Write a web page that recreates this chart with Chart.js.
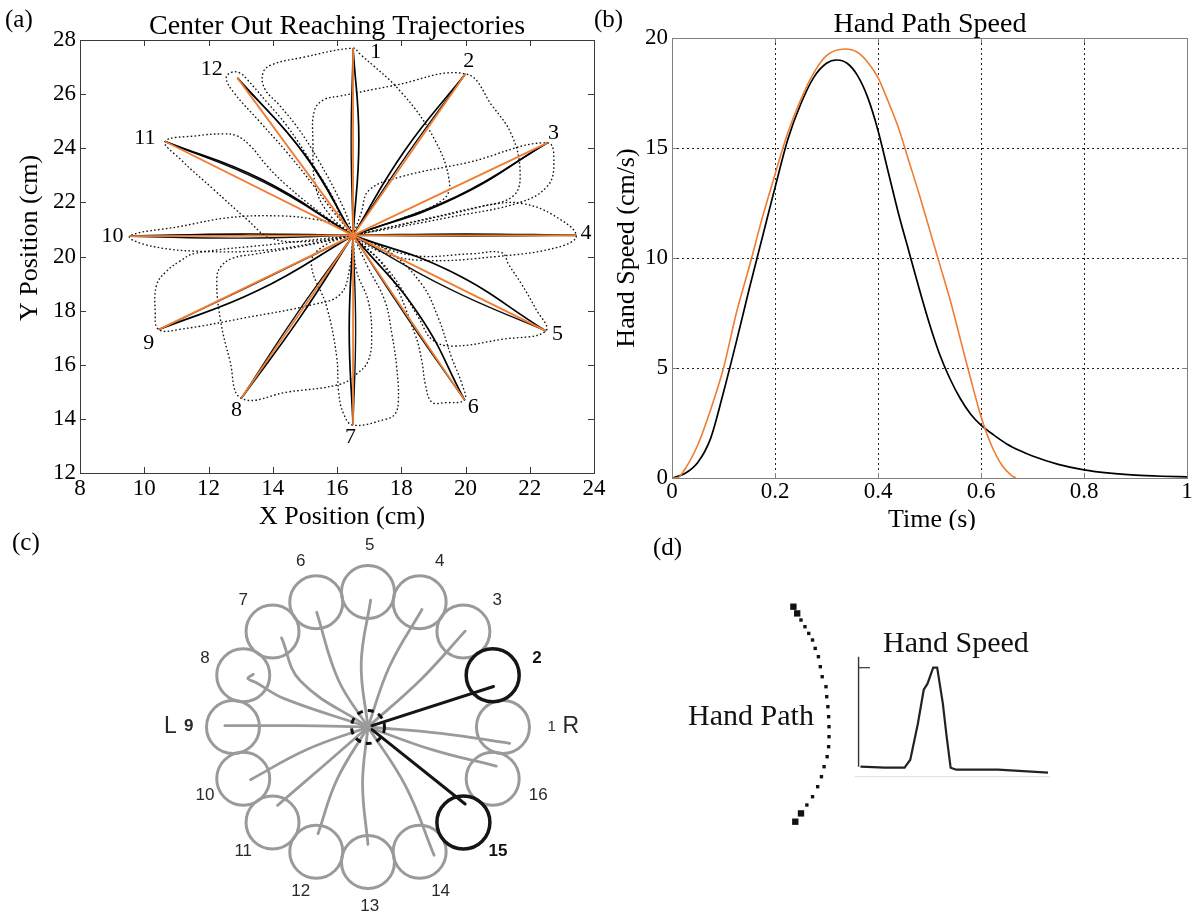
<!DOCTYPE html>
<html>
<head>
<meta charset="utf-8">
<title>Center out reaching</title>
<script src="https://cdn.jsdelivr.net/npm/chart.js@4.4.1/dist/chart.umd.min.js"></script>
<style>
  html, body { margin: 0; padding: 0; background: #fff; }
  #page { position: relative; width: 1200px; height: 924px; overflow: hidden; background: #fff; }
  canvas { position: absolute; }
</style>
</head>
<body>
<div id="page">
  <canvas id="chartA" width="615" height="530" style="left:0;top:0"></canvas>
  <canvas id="chartB" width="610" height="530" style="left:590px;top:0"></canvas>
  <canvas id="chartC" width="600" height="394" style="left:0;top:530px"></canvas>
  <canvas id="chartD" width="600" height="394" style="left:600px;top:530px"></canvas>
</div>
<script>
var SERIF = "'Liberation Serif', 'Times New Roman', serif";
var SANS = "'Liberation Sans', Arial, sans-serif";
var ORANGE = '#ee7d31';

// ---------- (a) center out reaching trajectories ----------
var centerPos = [16.5, 20.78];
var targetNames = ['1', '2', '3', '4', '5', '6', '7', '8', '9', '10', '11', '12'];
var targetX = [16.5, 20.0, 22.55, 23.45, 22.5, 19.97, 16.5, 13.02, 10.45, 9.55, 10.65, 12.9];
var targetY = [27.7, 26.75, 24.2, 20.78, 17.25, 14.7, 13.77, 14.76, 17.3, 20.75, 24.25, 26.6];
var labelX = [17.21, 20.1, 22.74, 23.75, 22.86, 20.24, 16.42, 12.87, 10.14, 9.01, 10.02, 12.1];
var labelY = [27.54, 27.23, 24.55, 20.87, 17.12, 14.44, 13.31, 14.31, 16.8, 20.74, 24.36, 26.92];
// middle points of the two solid reaches to each target
var bendAX = [16.68, 18.1, 19.65, 20.0, 19.5, 18.55, 16.38, 14.85, 13.55, 13.0, 13.65, 15.05];
var bendAY = [24.3, 23.9, 22.15, 20.83, 19.47, 17.85, 17.3, 17.75, 18.75, 20.83, 22.85, 23.69];
var bendBX = [16.44, 18.2, 19.72, 20.0, 19.5, 18.15, 16.58, 14.7, 13.45, 13.0, 13.72, 14.95];
var bendBY = [24.3, 23.8, 22.22, 20.76, 18.8, 17.8, 17.3, 17.8, 19.0, 20.68, 22.75, 23.82];
// dotted loops: center -> one side -> target -> other side -> center
var loop1 = [[16.5,20.78],[16.2,21.8],[15.4,23.6],[14.75,24.8],[14.2,25.6],[13.75,26.2],[13.7,26.8],[14.0,27.1],[14.9,27.35],[16.5,27.7],[16.7,27.5],[18.0,26.07],[19.03,24.34],[19.5,22.75],[19.3,22.1],[18.0,21.4],[16.5,20.78]];
var loop2 = [[16.5,20.78],[15.8,21.5],[15.35,22.5],[15.25,24.3],[15.3,25.4],[15.6,25.8],[16.1,25.93],[17.7,26.3],[20.0,26.75],[20.83,25.57],[21.45,24.46],[21.7,23.11],[21.5,22.25],[20.5,21.85],[18.5,21.3],[16.5,20.78]];
var loop3 = [[16.5,20.78],[16.75,21.6],[17.0,22.45],[18.0,22.95],[20.1,23.48],[22.55,24.2],[22.75,23.4],[22.55,22.6],[21.7,22.0],[19.5,21.45],[16.5,20.78]];
var loop4 = [[16.5,20.78],[19.0,21.45],[20.98,21.95],[21.8,21.95],[22.7,21.55],[23.45,20.78],[22.9,20.35],[20.98,20.0],[18.6,19.86],[17.3,20.2],[16.5,20.78]];
var loop5 = [[16.5,20.78],[18.3,20.05],[20.2,20.1],[21.13,20.14],[21.34,19.71],[21.75,18.97],[22.17,18.1],[22.5,17.25],[21.13,16.94],[19.57,16.69],[18.95,16.94],[18.54,17.74],[17.6,19.5],[16.5,20.78]];
var loop6 = [[16.5,20.78],[17.6,19.4],[18.43,17.12],[18.64,16.14],[18.75,15.28],[18.95,14.62],[19.37,14.6],[19.97,14.7],[19.89,15.28],[19.57,16.26],[19.15,17.74],[18.64,18.97],[17.6,20.2],[16.5,20.78]];
var loop7 = [[16.5,20.78],[15.6,20.4],[15.2,19.75],[15.68,18.14],[15.99,16.3],[16.05,15.0],[16.2,14.2],[16.5,13.77],[17.49,13.98],[17.8,14.17],[17.91,14.66],[17.86,15.89],[17.71,17.12],[17.49,18.36],[16.97,19.59],[16.5,20.78]];
var loop8 = [[16.5,20.78],[15.0,20.4],[13.4,20.08],[12.78,19.95],[12.4,19.65],[12.26,19.22],[12.36,17.74],[12.67,16.14],[13.02,14.76],[14.5,15.0],[16.1,15.28],[16.6,15.65],[16.97,16.14],[17.08,17.12],[16.97,18.36],[16.6,19.5],[16.5,20.78]];
var loop9 = [[16.5,20.78],[14.0,20.45],[11.6,20.12],[11.11,19.83],[10.7,19.46],[10.39,18.97],[10.34,17.99],[10.45,17.3],[11.11,17.31],[13.16,17.74],[15.27,18.23],[16.1,18.6],[16.4,19.6],[16.5,20.78]];
var loop10 = [[16.5,20.78],[16.1,21.14],[15.27,21.38],[14.23,21.5],[12.67,21.44],[11.12,21.11],[9.55,20.75],[10.26,20.37],[12.05,20.18],[13.83,20.24],[15.26,20.49],[16.5,20.78]];
var loop11 = [[16.5,20.78],[15.5,21.6],[14.44,22.62],[13.82,23.35],[13.3,24.09],[12.88,24.46],[12.46,24.53],[11.63,24.46],[10.65,24.25],[11.12,23.6],[12.15,22.49],[13.19,21.38],[13.9,20.7],[15.0,20.55],[16.5,20.78]];
var loop12 = [[16.5,20.78],[15.9,21.63],[15.27,22.62],[14.44,23.85],[13.61,24.96],[12.78,26.07],[12.55,26.6],[12.73,26.81],[12.98,26.78],[13.19,26.56],[13.82,25.7],[14.44,24.83],[15.27,23.35],[15.9,22.12],[16.1,21.5],[16.5,20.78]];
var dottedLoops = [loop1, loop2, loop3, loop4, loop5, loop6, loop7, loop8, loop9, loop10, loop11, loop12];
var xTickLabelsA = ['8', '10', '12', '14', '16', '18', '20', '22', '24'];
var yTickLabelsA = ['12', '14', '16', '18', '20', '22', '24', '26', '28'];

// ---------- (b) hand path speed ----------
var timeBlack = [0, 0.025, 0.05, 0.075, 0.1, 0.125, 0.15, 0.175, 0.2, 0.225, 0.25, 0.275, 0.3, 0.32, 0.34, 0.36, 0.38, 0.4, 0.42, 0.44, 0.46, 0.48, 0.5, 0.52, 0.54, 0.56, 0.58, 0.6, 0.625, 0.65, 0.675, 0.7, 0.75, 0.8, 0.85, 0.9, 0.95, 1.0];
var speedBlack = [0, 0.2, 0.7, 1.8, 3.9, 6.2, 8.6, 10.9, 13.2, 15.4, 17.0, 18.2, 18.85, 19.0, 18.85, 18.3, 17.3, 15.8, 13.9, 12.0, 10.3, 8.6, 7.0, 5.6, 4.5, 3.6, 2.9, 2.4, 1.95, 1.55, 1.25, 1.0, 0.62, 0.37, 0.22, 0.13, 0.08, 0.05];
var timeOrange = [0, 0.01, 0.025, 0.05, 0.075, 0.1, 0.125, 0.15, 0.175, 0.2, 0.225, 0.25, 0.275, 0.3, 0.336, 0.36, 0.38, 0.4, 0.42, 0.44, 0.46, 0.48, 0.5, 0.52, 0.54, 0.56, 0.58, 0.6, 0.62, 0.64, 0.66, 0.668];
var speedOrange = [0, 0, 0.4, 1.5, 3.1, 5.0, 7.5, 9.6, 11.8, 13.8, 15.7, 17.2, 18.4, 19.2, 19.5, 19.35, 18.9, 18.2, 17.1, 15.9, 14.4, 12.9, 11.3, 9.7, 8.1, 6.3, 4.5, 2.8, 1.5, 0.6, 0.1, 0];
var timeTickLabels = ['0', '0.2', '0.4', '0.6', '0.8', '1'];
var speedTickLabels = ['0', '5', '10', '15', '20'];

// ---------- (c) sixteen target layout (units: ring radius = 1) ----------
var ringNames = ['1', '2', '3', '4', '5', '6', '7', '8', '9', '10', '11', '12', '13', '14', '15', '16'];
var ringX = [1, 0.924, 0.707, 0.383, 0, -0.383, -0.707, -0.924, -1, -0.924, -0.707, -0.383, 0, 0.383, 0.707, 0.924];
var ringY = [0, 0.383, 0.707, 0.924, 1, 0.924, 0.707, 0.383, 0, -0.383, -0.707, -0.924, -1, -0.924, -0.707, -0.383];
var highlighted = ['2', '15'];
var ringLabelX = [1.361, 1.253, 0.958, 0.532, 0.013, -0.498, -0.924, -1.207, -1.327, -1.207, -0.924, -0.498, 0.013, 0.538, 0.963, 1.261];
var ringLabelY = [0.002, 0.509, 0.941, 1.224, 1.348, 1.224, 0.941, 0.509, 0.002, -0.504, -0.924, -1.22, -1.331, -1.22, -0.924, -0.504];
var path1 = [[0,0],[0.54,-0.047],[1.05,-0.121]];
var path3 = [[0,0],[0.40,0.36],[0.72,0.71]];
var path4 = [[0,0],[0.16,0.45],[0.40,0.87]];
var path5 = [[0,0],[-0.05,0.47],[0.02,0.94]];
var path6 = [[0,0],[-0.22,0.35],[-0.38,0.85]];
var path7 = [[0,0],[-0.50,0.34],[-0.64,0.66]];
var path8 = [[0,0],[-0.62,0.21],[-0.83,0.33],[-0.89,0.36],[-0.85,0.39]];
var path9 = [[0,0],[-0.52,0.01],[-1.06,0.01]];
var path10 = [[0,0],[-0.46,-0.17],[-0.87,-0.39]];
var path11 = [[0,0],[-0.31,-0.27],[-0.67,-0.58]];
var path12 = [[0,0],[-0.23,-0.39],[-0.37,-0.79]];
var path13 = [[0,0],[-0.04,-0.42],[0.0,-0.87]];
var path14 = [[0,0],[0.28,-0.44],[0.49,-0.95]];
var path16 = [[0,0],[0.48,-0.17],[0.95,-0.29]];
var path2 = [[0.03,0.01],[0.93,0.30]];
var path15 = [[0.03,-0.02],[0.72,-0.57]];
var greyPaths = [path1, path3, path4, path5, path6, path7, path8, path9, path10, path11, path12, path13, path14, path16];
var blackPaths = [path2, path15];

// ---------- (d) hand path and hand speed sketch ----------
var pathDotX = [-0.344, -0.324, -0.304, -0.283, -0.263, -0.243, -0.229, -0.212, -0.202, -0.192, -0.172, -0.168, -0.162, -0.158, -0.156, -0.156, -0.158, -0.166, -0.182, -0.196, -0.216, -0.243, -0.273, -0.304, -0.334];
var pathDotY = [1.6, 1.533, 1.467, 1.4, 1.333, 1.267, 1.183, 1.1, 1.0, 0.9, 0.8, 0.7, 0.6, 0.5, 0.4, 0.3, 0.2, 0.1, 0.0, -0.1, -0.2, -0.3, -0.383, -0.467, -0.55];
var profileT = [0.01, 0.14, 0.243, 0.273, 0.313, 0.344, 0.364, 0.394, 0.415, 0.445, 0.465, 0.486, 0.516, 0.737, 1.0];
var profileS = [0.0, -0.01, -0.01, 0.07, 0.43, 0.77, 0.83, 0.99, 0.99, 0.63, 0.30, -0.01, -0.03, -0.03, -0.06];

function pairs(arr) { return arr.map(function(p) { return {x: p[0], y: p[1]}; }); }
function pts(xs, ys) { return xs.map(function(x, i) { return {x: x, y: ys[i]}; }); }

function boxPlugin(color, len) {
  return {
    id: 'matlabBox',
    afterDraw: function(chart) {
      var ctx = chart.ctx, a = chart.chartArea;
      var xs = chart.scales.x, ys = chart.scales.y;
      ctx.save();
      ctx.strokeStyle = color;
      ctx.lineWidth = 1;
      ctx.beginPath();
      xs.ticks.forEach(function(t) {
        var px = Math.round(xs.getPixelForValue(t.value)) + 0.5;
        ctx.moveTo(px, a.bottom); ctx.lineTo(px, a.bottom - len);
        ctx.moveTo(px, a.top); ctx.lineTo(px, a.top + len);
      });
      ys.ticks.forEach(function(t) {
        var py = Math.round(ys.getPixelForValue(t.value)) + 0.5;
        ctx.moveTo(a.left, py); ctx.lineTo(a.left + len, py);
        ctx.moveTo(a.right, py); ctx.lineTo(a.right - len, py);
      });
      ctx.stroke();
      ctx.strokeRect(Math.round(a.left) + 0.5, Math.round(a.top) + 0.5, Math.round(a.right - a.left), Math.round(a.bottom - a.top));
      ctx.restore();
    }
  };
}

function textPlugin(items) {
  return {
    id: 'panelText',
    afterDraw: function(chart) {
      var ctx = chart.ctx;
      items.forEach(function(it) {
        var px = it.x, py = it.y;
        if (it.data) {
          px = chart.scales.x.getPixelForValue(it.x);
          py = chart.scales.y.getPixelForValue(it.y);
        }
        ctx.save();
        ctx.font = it.font;
        ctx.fillStyle = it.color || '#000';
        ctx.textAlign = it.align || 'center';
        ctx.textBaseline = 'middle';
        ctx.translate(px, py);
        if (it.rotate) ctx.rotate(it.rotate);
        ctx.fillText(it.text, 0, 0);
        ctx.restore();
      });
    }
  };
}

function lineSet(data, extra) {
  var d = {data: data, showLine: true, pointRadius: 0, fill: false, borderWidth: 1.5};
  for (var k in extra) d[k] = extra[k];
  return d;
}

var baseOpts = {
  responsive: false,
  animation: false,
  events: [],
  plugins: { legend: { display: false }, tooltip: { enabled: false } }
};
function withBase(o) { var r = {}; for (var k in baseOpts) r[k] = baseOpts[k]; for (var j in o) r[j] = o[j]; return r; }

// ----- chart (a) -----
var aSets = [];
var c0 = {x: centerPos[0], y: centerPos[1]};
for (var i = 0; i < targetX.length; i++) {
  var tg = {x: targetX[i], y: targetY[i]};
  aSets.push(lineSet([c0, tg], {borderColor: ORANGE, borderWidth: 1.8, order: 1}));
  aSets.push(lineSet([c0, {x: bendAX[i], y: bendAY[i]}, tg], {borderColor: '#000', borderWidth: 1.7, tension: 0.45, order: 2}));
  aSets.push(lineSet([c0, {x: bendBX[i], y: bendBY[i]}, tg], {borderColor: '#111', borderWidth: 1.4, tension: 0.45, order: 2}));
  aSets.push(lineSet(pairs(dottedLoops[i]), {borderColor: '#111', borderWidth: 1.35, borderDash: [1.6, 2.3], tension: 0.4, order: 3}));
}
aSets.push({data: [c0], showLine: false, pointRadius: 3, pointBackgroundColor: ORANGE, pointBorderWidth: 0, order: 0});

var aTexts = [
  {text: 'Center Out Reaching Trajectories', x: 337, y: 27, font: '28px ' + SERIF},
  {text: '(a)', x: 5, y: 20, align: 'left', font: '25px ' + SERIF},
  {text: 'X Position (cm)', x: 342, y: 517, font: '26px ' + SERIF},
  {text: 'Y Position (cm)', x: 30, y: 238, rotate: -Math.PI / 2, font: '26px ' + SERIF}
];
targetNames.forEach(function(n, k) {
  aTexts.push({text: n, x: labelX[k], y: labelY[k], data: true, font: '22px ' + SERIF});
});

new Chart(document.getElementById('chartA'), {
  type: 'scatter',
  data: { datasets: aSets },
  options: withBase({
    layout: { padding: {left: 0, right: 21, top: 40, bottom: 0}, autoPadding: false },
    scales: {
      x: {
        type: 'linear', min: 8, max: 24,
        grid: { display: false, drawTicks: false }, border: { display: false },
        ticks: { stepSize: 2, padding: 4, autoSkip: false, maxRotation: 0, color: '#000',
                 font: { family: SERIF, size: 23, lineHeight: 1 },
                 callback: function(v, idx) { return xTickLabelsA[idx]; } },
        afterFit: function(s) { s.height = 57; }
      },
      y: {
        type: 'linear', min: 12, max: 28,
        grid: { display: false, drawTicks: false }, border: { display: false },
        ticks: { stepSize: 2, padding: 4, autoSkip: false, color: '#000',
                 font: { family: SERIF, size: 23, lineHeight: 1 },
                 callback: function(v, idx) { return yTickLabelsA[idx]; } },
        afterFit: function(s) { s.width = 80; }
      }
    }
  }),
  plugins: [boxPlugin('#3a3a3a', 6), textPlugin(aTexts)]
});

// ----- chart (b) -----
var bTexts = [
  {text: 'Hand Path Speed', x: 340, y: 25, font: '28px ' + SERIF},
  {text: '(b)', x: 4, y: 20, align: 'left', font: '25px ' + SERIF},
  {text: 'Time (s)', x: 342, y: 520, font: '26px ' + SERIF},
  {text: 'Hand Speed (cm/s)', x: 37, y: 248, rotate: -Math.PI / 2, font: '26px ' + SERIF}
];
new Chart(document.getElementById('chartB'), {
  type: 'scatter',
  data: { datasets: [
    lineSet(pts(timeOrange, speedOrange), {borderColor: ORANGE, borderWidth: 1.6, cubicInterpolationMode: 'monotone', order: 1}),
    lineSet(pts(timeBlack, speedBlack), {borderColor: '#000', borderWidth: 1.7, cubicInterpolationMode: 'monotone', order: 2})
  ] },
  options: withBase({
    layout: { padding: {left: 0, right: 13, top: 38, bottom: 0}, autoPadding: false },
    scales: {
      x: {
        type: 'linear', min: 0, max: 1,
        grid: { color: '#222', lineWidth: 1, drawTicks: false }, border: { display: false, dash: [2, 3] },
        ticks: { stepSize: 0.2, padding: 2, autoSkip: false, maxRotation: 0, color: '#000',
                 font: { family: SERIF, size: 23, lineHeight: 1 },
                 callback: function(v, idx) { return timeTickLabels[idx]; } },
        afterFit: function(s) { s.height = 52; }
      },
      y: {
        type: 'linear', min: 0, max: 20,
        grid: { color: '#222', lineWidth: 1, drawTicks: false }, border: { display: false, dash: [2, 3] },
        ticks: { stepSize: 5, padding: 4, autoSkip: false, color: '#000',
                 font: { family: SERIF, size: 23, lineHeight: 1 },
                 callback: function(v, idx) { return speedTickLabels[idx]; } },
        afterFit: function(s) { s.width = 82; }
      }
    }
  }),
  plugins: [boxPlugin('#808080', 5), textPlugin(bTexts)]
});

// ----- chart (c) -----
function dashedRing(r, w) {
  var s = Math.ceil(2 * r + w + 4);
  var cv = document.createElement('canvas');
  cv.width = s; cv.height = s;
  var g = cv.getContext('2d');
  g.strokeStyle = '#111'; g.lineWidth = w; g.setLineDash([6, 5]);
  g.beginPath(); g.arc(s / 2, s / 2, r, 0, Math.PI * 2); g.stroke();
  return cv;
}
var greyRing = [], blackRing = [];
ringNames.forEach(function(n, k) {
  var p = {x: ringX[k], y: ringY[k]};
  if (highlighted.indexOf(n) >= 0) blackRing.push(p); else greyRing.push(p);
});
var cSets = [];
cSets.push({data: greyRing, showLine: false, pointRadius: 26.5, pointBorderWidth: 3, pointBorderColor: '#9a9a9a', pointBackgroundColor: 'rgba(0,0,0,0)', order: 5});
greyPaths.forEach(function(p) {
  cSets.push(lineSet(pairs(p), {borderColor: '#9a9a9a', borderWidth: 2.8, tension: 0.4, borderCapStyle: 'round', order: 4}));
});
cSets.push({data: blackRing, showLine: false, pointRadius: 26.5, pointBorderWidth: 3.5, pointBorderColor: '#151515', pointBackgroundColor: 'rgba(0,0,0,0)', order: 3});
blackPaths.forEach(function(p) {
  cSets.push(lineSet(pairs(p), {borderColor: '#151515', borderWidth: 3, borderCapStyle: 'round', order: 2}));
});
cSets.push({data: [{x: 0, y: 0}], showLine: false, pointStyle: dashedRing(16.5, 3), order: 1});

var cTexts = [{text: '(c)', x: 12, y: 13, align: 'left', font: '25px ' + SERIF}];
ringNames.forEach(function(n, k) {
  var hot = highlighted.indexOf(n) >= 0;
  var f = (hot ? 'bold ' : '') + '17px ' + SANS;
  if (n === '1') {
    cTexts.push({text: '1', x: ringLabelX[k], y: ringLabelY[k], data: true, font: '15px ' + SANS, color: '#2a2a2a'});
    cTexts.push({text: 'R', x: ringLabelX[k] + 0.142, y: ringLabelY[k], data: true, font: '23px ' + SANS, color: '#2a2a2a'});
  } else if (n === '9') {
    cTexts.push({text: '9', x: ringLabelX[k], y: ringLabelY[k], data: true, font: 'bold 17px ' + SANS, color: '#2a2a2a'});
    cTexts.push({text: 'L', x: ringLabelX[k] - 0.136, y: ringLabelY[k], data: true, font: '23px ' + SANS, color: '#2a2a2a'});
  } else {
    cTexts.push({text: n, x: ringLabelX[k], y: ringLabelY[k], data: true, font: f, color: hot ? '#111' : '#2a2a2a'});
  }
});
new Chart(document.getElementById('chartC'), {
  type: 'scatter',
  data: { datasets: cSets },
  options: withBase({
    layout: { padding: 0, autoPadding: false },
    scales: {
      x: { type: 'linear', display: false, min: -2.726, max: 1.719 },
      y: { type: 'linear', display: false, min: -1.459, max: 1.459 }
    }
  }),
  plugins: [textPlugin(cTexts)]
});

// ----- chart (d) -----
var dotSizes = pathDotX.map(function(v, k) { return (k < 2 || k > pathDotX.length - 3) ? 4.5 : 2.4; });
var dSets = [
  lineSet([{x: -0.02, y: -0.1}, {x: 1.01, y: -0.1}], {borderColor: '#dfe4ea', borderWidth: 1.2, order: 4}),
  lineSet([{x: 0, y: 1.1}, {x: 0, y: 0}], {borderColor: '#333', borderWidth: 1.4, order: 3}),
  lineSet([{x: 0, y: 0.99}, {x: 0.06, y: 0.99}], {borderColor: '#333', borderWidth: 1.2, order: 3}),
  lineSet(pts(profileT, profileS), {borderColor: '#222', borderWidth: 2.2, order: 2}),
  {data: pts(pathDotX, pathDotY), showLine: false, pointStyle: 'rect', pointRadius: dotSizes, pointBackgroundColor: '#111', pointBorderWidth: 0, order: 1}
];
var dTexts = [
  {text: '(d)', x: 53, y: 18, align: 'left', font: '25px ' + SERIF},
  {text: 'Hand Path', x: -0.568, y: 0.497, data: true, font: '30px ' + SERIF, color: '#111'},
  {text: 'Hand Speed', x: 0.514, y: 1.227, data: true, font: '30px ' + SERIF, color: '#111'}
];
new Chart(document.getElementById('chartD'), {
  type: 'scatter',
  data: { datasets: dSets },
  options: withBase({
    layout: { padding: 0, autoPadding: false },
    scales: {
      x: { type: 'linear', display: false, min: -1.365, max: 1.8025 },
      y: { type: 'linear', display: false, min: -1.573, max: 2.367 }
    }
  }),
  plugins: [textPlugin(dTexts)]
});
</script>
</body>
</html>
